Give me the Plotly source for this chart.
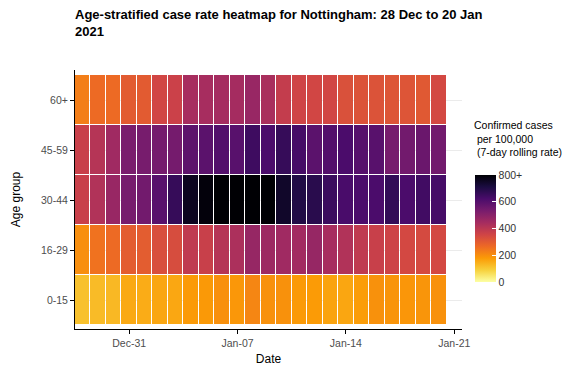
import plotly.graph_objects as go
import pandas as pd

# Daily 7-day rolling case rates per 100,000, 28 Dec 2020 to 20 Jan 2021
dates = pd.date_range("2020-12-28", "2021-01-20", freq="D")
age_groups = ["0-15", "16-29", "30-44", "45-59", "60+"]

rate_0_15 = [115, 125, 130, 155, 150, 160, 158, 180, 182, 198, 185, 215,
             195, 195, 180, 178, 165, 160, 175, 195, 190, 187, 188, 195]
rate_16_29 = [200, 250, 265, 295, 295, 330, 335, 390, 370, 410, 430, 475,
              460, 455, 450, 475, 440, 420, 390, 370, 360, 345, 340, 345]
rate_30_44 = [370, 420, 470, 535, 545, 595, 660, 760, 790, 810, 820, 820,
              820, 745, 700, 685, 650, 625, 620, 620, 665, 620, 640, 630]
rate_45_59 = [370, 410, 455, 530, 535, 540, 540, 585, 590, 605, 595, 645,
              620, 660, 630, 590, 605, 620, 600, 595, 535, 545, 560, 545]
rate_60 = [230, 265, 265, 300, 300, 350, 365, 440, 440, 445, 445, 470,
           435, 380, 355, 350, 350, 325, 320, 320, 315, 315, 305, 345]

x_tick_vals = ["2020-12-31", "2021-01-07", "2021-01-14", "2021-01-21"]
x_tick_text = ["Dec-31", "Jan-07", "Jan-14", "Jan-21"]
cbar_vals = [0, 200, 400, 600, 800]
cbar_text = ["0", "200", "400", "600", "800+"]

z = [rate_0_15, rate_16_29, rate_30_44, rate_45_59, rate_60]

# page body has an 8px default margin, so the figure is drawn 8px smaller
W, H = 573, 364

fig = go.Figure()
fig.add_trace(go.Heatmap(
    x=dates, y=age_groups, z=z,
    colorscale="Inferno", reversescale=True, zmin=0, zmax=800,
    xgap=1, ygap=1,
    colorbar=dict(
        x=1.034, xanchor="left", xpad=0,
        y=0.388, yanchor="middle",
        thickness=21, len=127, lenmode="pixels",
        outlinewidth=0,
        tickvals=cbar_vals, ticktext=cbar_text,
        ticks="inside", ticklen=4, tickcolor="white",
        tickfont=dict(size=10.5, color="#333333"),
    ),
))

# legend title, placed like the ggplot guide title
fig.add_annotation(
    text="Confirmed cases<br>&nbsp;per 100,000<br>&nbsp;(7-day rolling rate)",
    xref="paper", yref="paper", x=1.026, y=0.82,
    xanchor="left", yanchor="top", align="left", showarrow=False,
    font=dict(size=10.5, color="black"),
)

fig.update_layout(
    width=W, height=H,
    margin=dict(l=67, r=119, t=62, b=43, autoexpand=False),
    paper_bgcolor="white", plot_bgcolor="white",
    font=dict(family="Liberation Sans, Arial, sans-serif", color="black"),
    title=dict(
        text="<b>Age-stratified case rate heatmap for Nottingham: 28 Dec to 20 Jan<br>2021</b>",
        x=67 / W, xanchor="left", y=1 - 11 / H, yanchor="top",
        font=dict(size=13, color="black"),
    ),
)
fig.update_xaxes(
    title=dict(text="Date", font=dict(size=12), standoff=7),
    automargin=False,
    range=["2020-12-27 12:00", "2021-01-21 12:00"],
    tickvals=x_tick_vals, ticktext=x_tick_text,
    tickfont=dict(size=10.5, color="#4d4d4d"),
    showline=True, linecolor="black", linewidth=1,
    ticks="outside", ticklen=4, tickcolor="black",
    showgrid=False, zeroline=False,
)
fig.update_yaxes(
    title=dict(text="Age group", font=dict(size=12), standoff=17),
    automargin=False,
    range=[-0.58, 4.6],
    tickfont=dict(size=10.5, color="#4d4d4d"),
    showline=True, linecolor="black", linewidth=1,
    ticks="outside", ticklen=4, tickcolor="black",
    showgrid=True, gridcolor="#ebebeb", zeroline=False,
)

fig.write_html("out.html")
